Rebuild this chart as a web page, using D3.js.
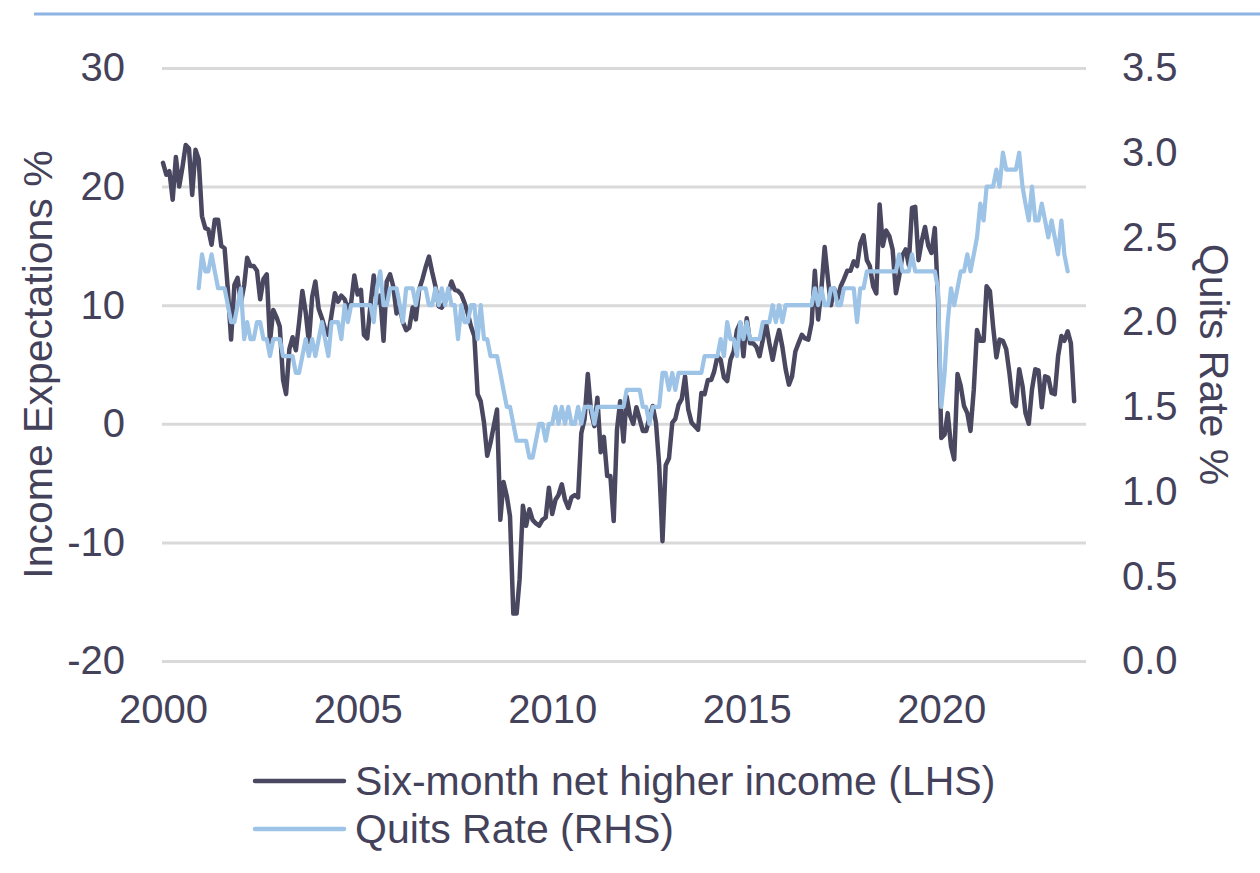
<!DOCTYPE html>
<html>
<head>
<meta charset="utf-8">
<script src="https://cdn.jsdelivr.net/npm/d3@7"></script>
<style>
  html, body { margin: 0; padding: 0; background: #fff; }
  svg { display: block; font-family: 'Liberation Sans', Arial, sans-serif; }
</style>
</head>
<body>
<div id="chart"></div>
<script>
// Six-month net higher income expectations (LHS, %), monthly from Jan 2000
var incomeStart = [2000, 0];
var incomeValues = [
  22.0, 21.0, 21.3, 18.9, 22.5, 20.0, 21.6, 23.5, 23.2, 19.3, 23.1, 22.3,
  17.5, 16.5, 16.4, 15.1, 17.2, 17.2, 15.0, 14.8, 11.3, 7.1, 11.7, 12.3,
  10.2, 11.7, 14.0, 13.3, 13.3, 12.9, 10.5, 12.2, 12.6, 6.9, 9.6, 9.0,
  8.2, 3.7, 2.5, 6.3, 7.3, 6.2, 8.5, 11.2, 9.4, 6.9, 10.7, 12.0,
  9.7, 8.9, 8.0, 7.5, 9.2, 11.0, 10.3, 10.8, 10.5, 9.7, 10.2, 12.5,
  10.9, 11.3, 7.5, 7.2, 10.0, 12.5, 10.2, 10.8, 7.0, 12.0, 12.6, 11.6,
  9.3, 9.8, 8.6, 7.9, 8.1, 9.8, 8.8, 11.3, 12.2, 13.2, 14.1, 12.8,
  11.6, 9.9, 9.8, 10.3, 11.0, 12.0, 11.3, 11.2, 10.9, 10.2, 9.3, 8.2,
  7.4, 2.5, 1.9, 0.1, -2.7, -1.6, -0.2, 1.2, -8.1, -4.9, -6.1, -7.8,
  -16.0, -16.0, -13.1, -6.9, -8.6, -7.2, -8.1, -8.4, -8.6, -8.1, -7.9, -5.4,
  -7.6, -6.4, -6.0, -5.1, -6.4, -7.1, -6.2, -6.0, -6.2, -0.8, 0.4, 4.2,
  1.0, -0.2, 2.2, -2.4, -1.1, -4.4, -4.4, -8.2, -0.5, 1.9, -1.5, 2.3,
  0.7, 0.0, 1.4, 0.4, -0.6, -0.6, 0.5, 1.5, 0.1, -3.5, -9.9, -3.5,
  -2.9, 0.1, 0.4, 1.6, 2.1, 4.0, 1.2, 0.1, -0.2, -0.5, 2.6, 2.5,
  3.7, 3.7, 4.4, 5.7, 5.4, 3.9, 3.6, 5.4, 6.1, 7.9, 8.5, 5.7,
  8.9, 6.8, 6.8, 6.5, 5.7, 7.1, 8.5, 6.8, 5.4, 6.8, 7.9, 6.5,
  4.6, 3.3, 4.0, 6.1, 6.8, 7.5, 7.2, 7.1, 8.5, 12.9, 8.8, 11.3,
  14.9, 12.2, 10.0, 11.4, 10.5, 11.6, 12.2, 12.9, 12.9, 13.7, 13.3, 15.2,
  15.9, 13.8, 13.3, 11.6, 11.0, 18.5, 15.0, 16.3, 15.8, 14.7, 11.0, 12.4,
  14.2, 14.7, 13.4, 18.2, 18.3, 13.8, 15.4, 16.6, 15.0, 14.4, 16.5, 10.5,
  -1.2, -0.9, 0.9, -1.9, -3.0, 4.2, 3.2, 1.5, 0.9, -0.6, 2.9, 7.9,
  7.0, 7.0, 11.6, 11.2, 8.2, 5.6, 7.1, 7.0, 6.3, 4.3, 1.8, 1.5,
  4.6, 3.2, 0.9, 0.0, 2.9, 4.6, 4.5, 1.4, 4.0, 3.9, 2.6, 2.5,
  5.7, 7.4, 7.0, 7.8, 6.8, 1.9
];

// Quits rate (RHS, %), monthly from Dec 2000
var quitsStart = [2000, 11];
var quitsValues = [
  2.2,
  2.4, 2.3, 2.3, 2.4, 2.3, 2.2, 2.2, 2.2, 2.1, 2.0, 2.0, 2.1,
  2.2, 1.9, 2.0, 1.9, 1.9, 2.0, 2.0, 1.9, 1.9, 1.8, 1.9, 1.9,
  1.9, 1.8, 1.8, 1.8, 1.8, 1.7, 1.7, 1.8, 1.9, 1.8, 1.9, 1.8,
  1.9, 2.0, 1.9, 1.8, 2.0, 2.0, 2.0, 1.9, 2.1, 2.0, 2.1, 2.1,
  2.1, 2.1, 2.1, 2.1, 2.1, 2.0, 2.2, 2.3, 2.1, 2.1, 2.2, 2.2,
  2.2, 2.1, 2.0, 2.2, 2.2, 2.2, 2.1, 2.2, 2.2, 2.2, 2.1, 2.1,
  2.2, 2.1, 2.2, 2.1, 2.2, 2.1, 2.1, 1.9, 2.1, 2.0, 2.0, 2.1,
  2.1, 1.9, 2.1, 1.9, 1.9, 1.8, 1.8, 1.8, 1.7, 1.6, 1.5, 1.5,
  1.4, 1.3, 1.3, 1.3, 1.3, 1.2, 1.2, 1.3, 1.4, 1.4, 1.3, 1.4,
  1.4, 1.5, 1.4, 1.5, 1.4, 1.5, 1.4, 1.4, 1.5, 1.4, 1.5, 1.5,
  1.5, 1.4, 1.5, 1.5, 1.5, 1.5, 1.5, 1.5, 1.5, 1.5, 1.5, 1.6,
  1.6, 1.6, 1.6, 1.6, 1.5, 1.5, 1.4, 1.5, 1.5, 1.5, 1.7, 1.7,
  1.6, 1.7, 1.6, 1.7, 1.7, 1.7, 1.7, 1.7, 1.7, 1.7, 1.7, 1.8,
  1.8, 1.8, 1.8, 1.8, 1.9, 1.8, 2.0, 1.9, 1.9, 1.8, 2.0, 1.9,
  2.0, 1.9, 1.9, 1.9, 1.9, 2.0, 2.0, 2.0, 2.1, 2.0, 2.1, 2.0,
  2.1, 2.1, 2.1, 2.1, 2.1, 2.1, 2.1, 2.1, 2.1, 2.2, 2.1, 2.2,
  2.1, 2.1, 2.2, 2.2, 2.1, 2.1, 2.2, 2.2, 2.2, 2.2, 2.0, 2.2,
  2.2, 2.3, 2.3, 2.3, 2.3, 2.3, 2.3, 2.3, 2.3, 2.3, 2.3, 2.4,
  2.3, 2.3, 2.3, 2.4, 2.3, 2.3, 2.3, 2.3, 2.3, 2.3, 2.3, 2.2,
  1.5, 1.7, 2.0, 2.2, 2.1, 2.2, 2.3, 2.3, 2.4, 2.3, 2.4, 2.5,
  2.7, 2.6, 2.8, 2.8, 2.8, 2.9, 2.8, 3.0, 2.9, 2.9, 2.9, 2.9,
  3.0, 2.8, 2.7, 2.6, 2.8, 2.6, 2.6, 2.7, 2.6, 2.5, 2.6, 2.5,
  2.4, 2.6, 2.4, 2.3
];

var leftTicks = [-20, -10, 0, 10, 20, 30];
var rightTicks = [0, 0.5, 1, 1.5, 2, 2.5, 3, 3.5];
var yearTicks = [2000, 2005, 2010, 2015, 2020];
var seriesNames = ['Six-month net higher income (LHS)', 'Quits Rate (RHS)'];
var seriesColors = ['#4a4760', '#9dc3e6'];

(function () {
  var width = 1260, height = 873;
  var plotLeft = 162, plotRight = 1086, plotTop = 68, plotBottom = 661;
  var textColor = '#44425a';
  var gridColor = '#d9d9d9';

  var svg = d3.select('#chart')
    .append('svg')
    .attr('width', width)
    .attr('height', height)
    .attr('viewBox', [0, 0, width, height]);

  svg.append('rect').attr('width', width).attr('height', height).attr('fill', '#fff');

  // thin rule across the top
  svg.append('line')
    .attr('x1', 34).attr('x2', width)
    .attr('y1', 14).attr('y2', 14)
    .attr('stroke', '#8db4e2')
    .attr('stroke-width', 3);

  function toSeries(start, values) {
    return values.map(function (v, i) {
      return { date: new Date(start[0], start[1] + i, 1), value: v };
    });
  }
  var income = toSeries(incomeStart, incomeValues);
  var quits = toSeries(quitsStart, quitsValues);

  var x = d3.scaleTime()
    .domain([new Date(2000, 0, 1), new Date(2023, 8, 20)])
    .range([163, plotRight]);
  var yLeft = d3.scaleLinear().domain([-20, 30]).range([plotBottom, plotTop]);
  var yRight = d3.scaleLinear().domain([0, 3.5]).range([plotBottom, plotTop]);

  // Left axis with gridlines (plain hyphen for negatives, like the source)
  var gLeft = svg.append('g')
    .attr('transform', 'translate(' + plotLeft + ',0)')
    .call(d3.axisLeft(yLeft)
      .tickValues(leftTicks)
      .tickSize(-(plotRight - plotLeft))
      .tickPadding(37)
      .tickFormat(function (d) { return String(d); }));
  gLeft.select('.domain').remove();
  gLeft.selectAll('line').attr('stroke', gridColor).attr('stroke-width', 3);

  // Right axis
  var gRight = svg.append('g')
    .attr('transform', 'translate(' + plotRight + ',0)')
    .call(d3.axisRight(yRight)
      .tickValues(rightTicks)
      .tickSize(0)
      .tickPadding(36)
      .tickFormat(function (d) { return d.toFixed(1); }));
  gRight.select('.domain').remove();

  // Bottom axis
  var gBottom = svg.append('g')
    .attr('transform', 'translate(0,' + plotBottom + ')')
    .call(d3.axisBottom(x)
      .tickValues(yearTicks.map(function (yr) { return new Date(yr, 0, 1); }))
      .tickSize(0)
      .tickPadding(34)
      .tickFormat(d3.timeFormat('%Y')));
  gBottom.select('.domain').remove();

  svg.selectAll('.tick text')
    .attr('font-family', "'Liberation Sans', Arial, sans-serif")
    .attr('font-size', 40)
    .attr('fill', textColor);

  // Axis titles
  svg.append('text')
    .attr('transform', 'translate(52,' + ((plotTop + plotBottom) / 2) + ') rotate(-90)')
    .attr('text-anchor', 'middle')
    .attr('font-size', 41)
    .attr('fill', textColor)
    .text('Income Expectations %');

  svg.append('text')
    .attr('transform', 'translate(1200,' + ((plotTop + plotBottom) / 2) + ') rotate(90)')
    .attr('text-anchor', 'middle')
    .attr('font-size', 41)
    .attr('fill', textColor)
    .text('Quits Rate %');

  // Lines
  var lineLeft = d3.line()
    .x(function (d) { return x(d.date); })
    .y(function (d) { return yLeft(d.value); });
  var lineRight = d3.line()
    .x(function (d) { return x(d.date); })
    .y(function (d) { return yRight(d.value); });

  svg.append('path')
    .datum(income)
    .attr('d', lineLeft)
    .attr('fill', 'none')
    .attr('stroke', seriesColors[0])
    .attr('stroke-width', 4.5)
    .attr('stroke-linejoin', 'round')
    .attr('stroke-linecap', 'round');

  svg.append('path')
    .datum(quits)
    .attr('d', lineRight)
    .attr('fill', 'none')
    .attr('stroke', seriesColors[1])
    .attr('stroke-width', 4.2)
    .attr('stroke-linejoin', 'round')
    .attr('stroke-linecap', 'round');

  // Legend
  var legend = svg.append('g')
    .selectAll('g')
    .data(seriesNames)
    .join('g')
    .attr('transform', function (d, i) { return 'translate(0,' + (781 + i * 48) + ')'; });

  legend.append('line')
    .attr('x1', 255).attr('x2', 344)
    .attr('y1', 0).attr('y2', 0)
    .attr('stroke', function (d, i) { return seriesColors[i]; })
    .attr('stroke-width', 4.5)
    .attr('stroke-linecap', 'round');

  legend.append('text')
    .attr('x', 355)
    .attr('y', 0)
    .attr('dominant-baseline', 'central')
    .attr('font-size', 41)
    .attr('fill', textColor)
    .text(function (d) { return d; });
})();
</script>
</body>
</html>
